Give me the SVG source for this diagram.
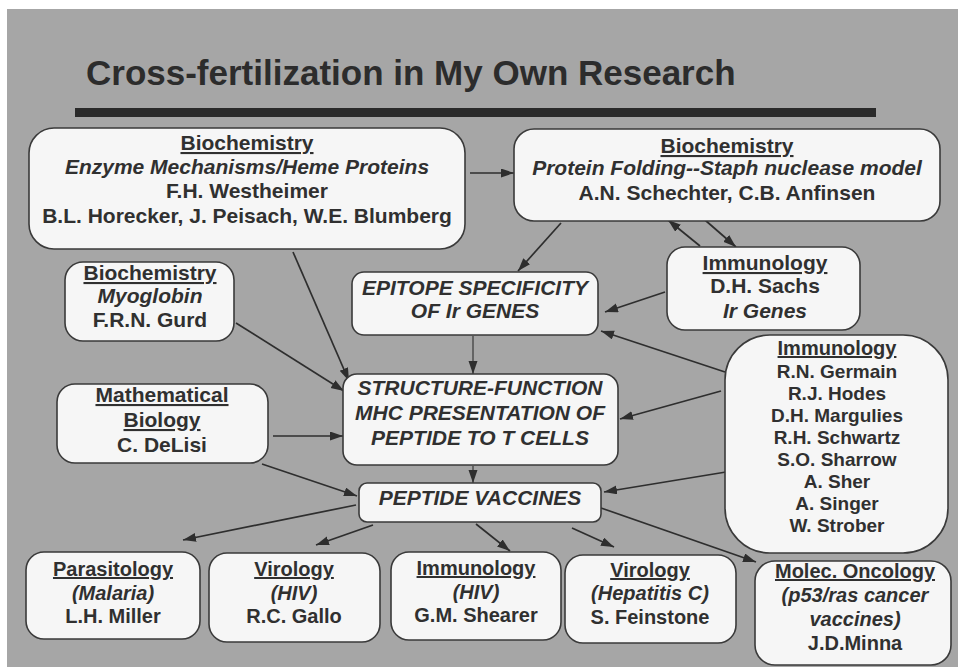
<svg xmlns="http://www.w3.org/2000/svg" width="958" height="667" viewBox="0 0 958 667">
<defs>
<style>
text{font-family:"Liberation Sans",Arial,Helvetica,sans-serif;font-weight:bold;fill:#303030;text-anchor:middle}
.t{font-size:35px;text-anchor:start;fill:#2c2c2c}
.f21{font-size:21px}
.f20{font-size:20px}
.f19{font-size:19px}
.i{font-style:italic}
.u{text-decoration:underline}
.box{fill:#f6f6f6;stroke:#3a3a3a;stroke-width:1.6}
#connectors line{stroke:#2e2e2e;stroke-width:1.7;marker-end:url(#ah)}
#connectors line.thin{stroke-width:1.1}
</style>
<marker id="ah" markerUnits="userSpaceOnUse" markerWidth="14" markerHeight="10" refX="13" refY="4.5" orient="auto">
<path d="M0,0 L13,4.5 L0,9 z" fill="#2e2e2e"/>
</marker>
</defs>
<rect x="0" y="0" width="958" height="667" fill="#ffffff"/>
<rect x="7" y="9" width="951" height="658" fill="#a6a6a6"/>
<text class="t" x="86" y="85">Cross-fertilization in My Own Research</text>
<rect x="75" y="108" width="801" height="9" fill="#2a2a2a"/>

<g id="connectors">
<line x1="470" y1="173" x2="514" y2="173"/>
<line x1="561" y1="223" x2="518" y2="271"/>
<line x1="700" y1="246" x2="668" y2="220"/>
<line x1="705" y1="220" x2="736" y2="247"/>
<line x1="293" y1="252" x2="349" y2="381"/>
<line x1="236" y1="323" x2="344" y2="391"/>
<line x1="273" y1="436" x2="343" y2="436"/>
<line class="thin" x1="473" y1="336" x2="473" y2="374"/>
<line x1="665" y1="292" x2="605" y2="312"/>
<line x1="725" y1="372" x2="601" y2="331"/>
<line x1="721" y1="391" x2="620" y2="419"/>
<line class="thin" x1="473" y1="466" x2="473" y2="483"/>
<line x1="262" y1="464" x2="357" y2="496"/>
<line x1="726" y1="472" x2="604" y2="492"/>
<line x1="356" y1="505" x2="183" y2="540"/>
<line x1="373" y1="525" x2="316" y2="545"/>
<line x1="476" y1="524" x2="510" y2="551"/>
<line x1="572" y1="528" x2="614" y2="547"/>
<line x1="601" y1="508" x2="756" y2="562"/>
</g>

<g id="n-enzyme">
<rect class="box" x="29" y="128" width="436" height="121" rx="25"/>
<text class="f21 u" x="247" y="150">Biochemistry</text>
<text class="f21 i" x="247" y="174">Enzyme Mechanisms/Heme Proteins</text>
<text class="f21" x="247" y="198">F.H. Westheimer</text>
<text class="f21" x="247" y="223">B.L. Horecker, J. Peisach, W.E. Blumberg</text>
</g>

<g id="n-folding">
<rect class="box" x="514" y="129" width="426" height="92" rx="20"/>
<text class="f21 u" x="727" y="153">Biochemistry</text>
<text class="f21 i" x="727" y="175">Protein Folding--Staph nuclease model</text>
<text class="f21" x="727" y="200">A.N. Schechter, C.B. Anfinsen</text>
</g>

<g id="n-myoglobin">
<rect class="box" x="65" y="262" width="169" height="79" rx="18"/>
<text class="f21 u" x="150" y="280">Biochemistry</text>
<text class="f21 i" x="150" y="303">Myoglobin</text>
<text class="f21" x="150" y="327">F.R.N. Gurd</text>
</g>

<g id="n-math">
<rect class="box" x="57" y="384" width="211" height="79" rx="18"/>
<text class="f21 u" x="162" y="402">Mathematical</text>
<text class="f21 u" x="162" y="427">Biology</text>
<text class="f21" x="162" y="452">C. DeLisi</text>
</g>

<g id="n-epitope">
<rect class="box" x="352" y="272" width="246" height="63" rx="12"/>
<text class="f21 i" x="475" y="295">EPITOPE SPECIFICITY</text>
<text class="f21 i" x="475" y="318">OF Ir GENES</text>
</g>

<g id="n-structure">
<rect class="box" x="343" y="374" width="275" height="91" rx="14"/>
<text class="f21 i" x="480" y="395">STRUCTURE-FUNCTION</text>
<text class="f21 i" x="480" y="420">MHC PRESENTATION OF</text>
<text class="f21 i" x="480" y="445">PEPTIDE TO T CELLS</text>
</g>

<g id="n-sachs">
<rect class="box" x="667" y="247" width="193" height="83" rx="18"/>
<text class="f21 u" x="765" y="270">Immunology</text>
<text class="f21" x="765" y="293">D.H. Sachs</text>
<text class="f21 i" x="765" y="318">Ir Genes</text>
</g>

<g id="n-immunology">
<rect class="box" x="725" y="335" width="223" height="218" rx="45"/>
<text class="f20 u" x="837" y="355">Immunology</text>
<text class="f19" x="837" y="378">R.N. Germain</text>
<text class="f19" x="837" y="400">R.J. Hodes</text>
<text class="f19" x="837" y="422">D.H. Margulies</text>
<text class="f19" x="837" y="444">R.H. Schwartz</text>
<text class="f19" x="837" y="466">S.O. Sharrow</text>
<text class="f19" x="837" y="488">A. Sher</text>
<text class="f19" x="837" y="510">A. Singer</text>
<text class="f19" x="837" y="532">W. Strober</text>
</g>

<g id="n-vaccines">
<rect class="box" x="359" y="483" width="242" height="39" rx="8"/>
<text class="f21 i" x="480" y="505">PEPTIDE VACCINES</text>
</g>

<g id="n-parasitology">
<rect class="box" x="26" y="552" width="174" height="87" rx="18"/>
<text class="f20 u" x="113" y="576">Parasitology</text>
<text class="f20 i" x="113" y="600">(Malaria)</text>
<text class="f20" x="113" y="623">L.H. Miller</text>
</g>

<g id="n-virology-hiv">
<rect class="box" x="209" y="553" width="171" height="89" rx="18"/>
<text class="f20 u" x="294" y="576">Virology</text>
<text class="f20 i" x="294" y="600">(HIV)</text>
<text class="f20" x="294" y="623">R.C. Gallo</text>
</g>

<g id="n-immunology-hiv">
<rect class="box" x="391" y="552" width="170" height="88" rx="18"/>
<text class="f20 u" x="476" y="575">Immunology</text>
<text class="f20 i" x="476" y="599">(HIV)</text>
<text class="f20" x="476" y="622">G.M. Shearer</text>
</g>

<g id="n-hepatitis">
<rect class="box" x="565" y="555" width="171" height="88" rx="18"/>
<text class="f20 u" x="650" y="577">Virology</text>
<text class="f20 i" x="650" y="600">(Hepatitis C)</text>
<text class="f20" x="650" y="624">S. Feinstone</text>
</g>

<g id="n-oncology">
<rect class="box" x="755" y="561" width="196" height="104" rx="20"/>
<text class="f20 u" x="855" y="578">Molec. Oncology</text>
<text class="f20 i" x="855" y="602">(p53/ras cancer</text>
<text class="f20 i" x="855" y="626">vaccines)</text>
<text class="f20" x="855" y="650">J.D.Minna</text>
</g>
</svg>
